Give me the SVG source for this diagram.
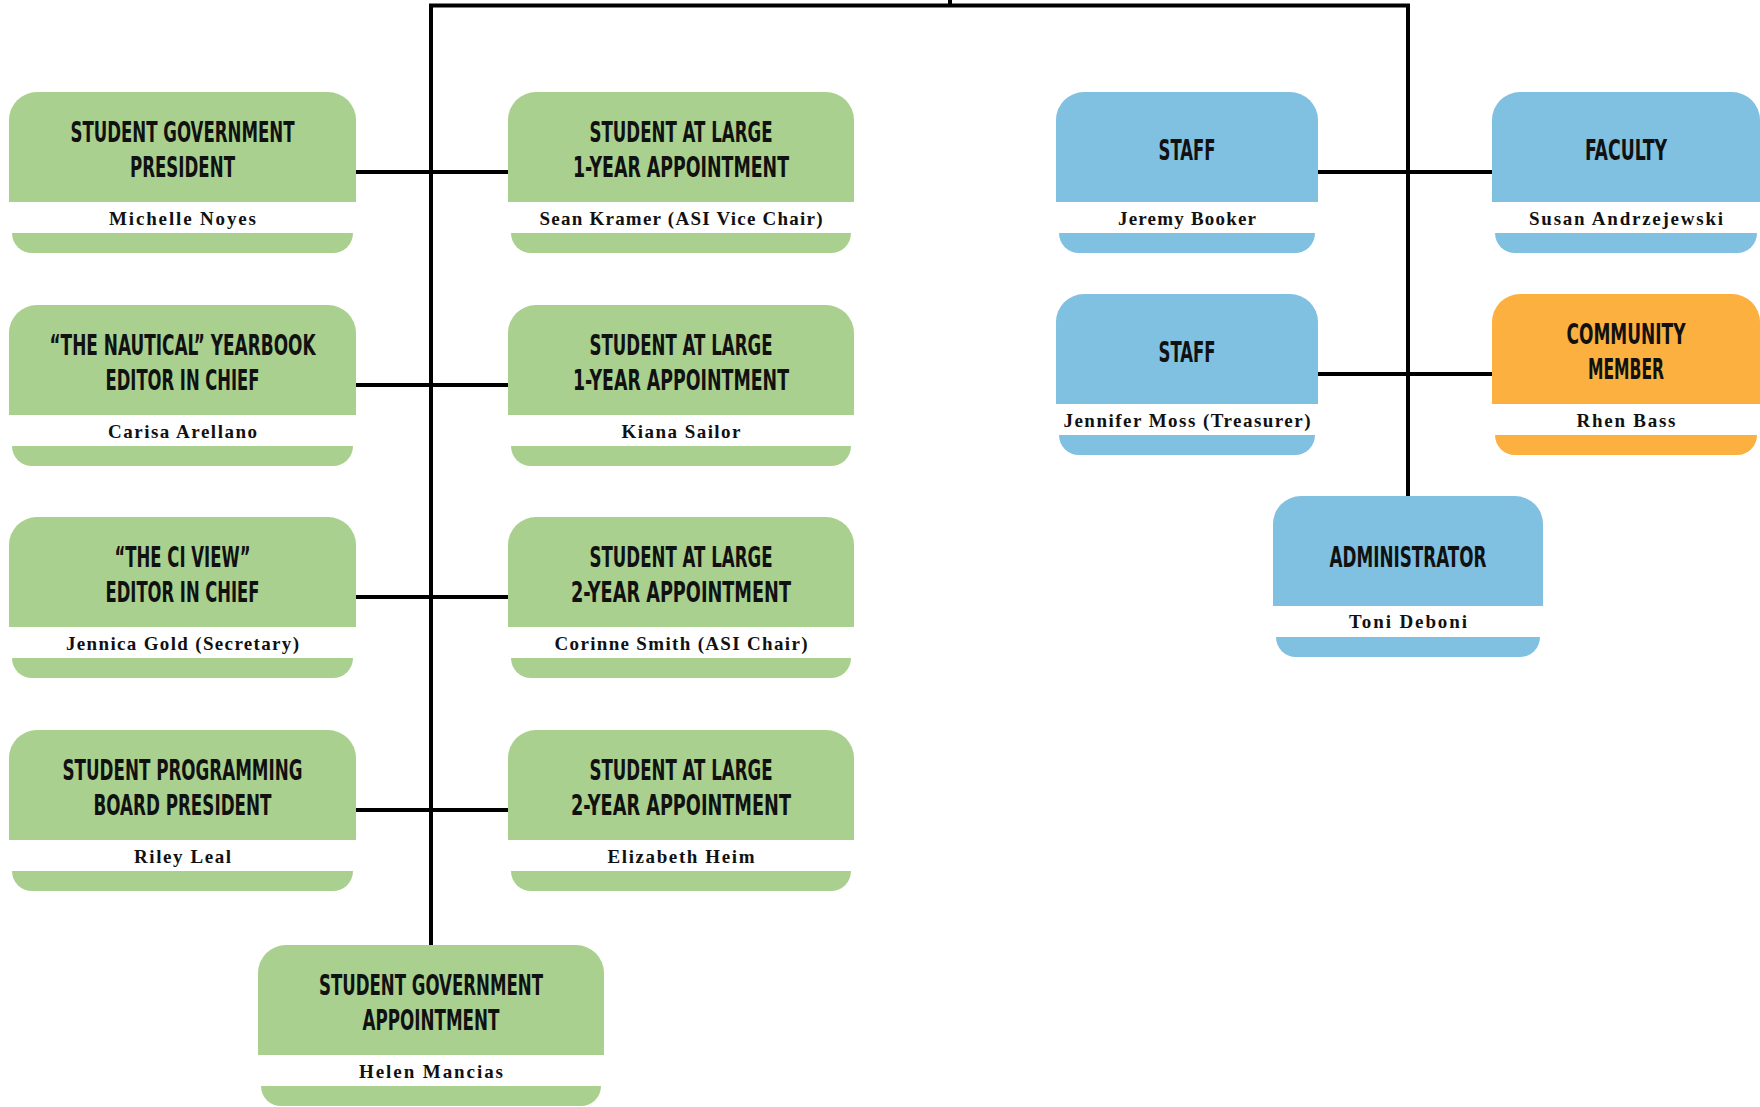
<svg xmlns="http://www.w3.org/2000/svg" width="1760" height="1107" viewBox="0 0 1760 1107">
<style>
.g{fill:#A9D08E}.b{fill:#80C0E1}.o{fill:#FBB040}
.t{font-family:"Liberation Sans Narrow","DejaVu Sans Condensed","Liberation Sans",sans-serif;font-weight:bold;font-size:28px;fill:#111;text-anchor:middle}
.n{font-family:"Liberation Serif","DejaVu Serif",serif;font-weight:bold;font-size:19px;fill:#111;text-anchor:middle}
.c{fill:none;stroke:#000;stroke-width:4}
</style>
<rect width="1760" height="1107" fill="#fff"/>
<g id="connectors" class="c">
<path d="M431,945 V5.5 H1408 V496"/>
<path d="M950,0 V5.5"/>
<path d="M356,172 H508"/>
<path d="M356,385 H508"/>
<path d="M356,597 H508"/>
<path d="M356,810 H508"/>
<path d="M1318,172 H1492"/>
<path d="M1318,374 H1492"/>
</g>

<g id="sg-president" transform="translate(9,92)">
<path class="g" d="M0,110 V28 A28,28 0 0 1 28,0 H319 A28,28 0 0 1 347,28 V110 Z"/>
<path class="g" d="M3,141 H344 A20,20 0 0 1 324,161 H23 A20,20 0 0 1 3,141 Z"/>
<text class="t" x="173.5" y="50" textLength="224" lengthAdjust="spacingAndGlyphs">STUDENT GOVERNMENT</text>
<text class="t" x="173.5" y="85" textLength="105" lengthAdjust="spacingAndGlyphs">PRESIDENT</text>
<text class="n" x="173.5" y="133" textLength="147" lengthAdjust="spacing">Michelle Noyes</text>
</g>

<g id="nautical" transform="translate(9,305)">
<path class="g" d="M0,110 V28 A28,28 0 0 1 28,0 H319 A28,28 0 0 1 347,28 V110 Z"/>
<path class="g" d="M3,141 H344 A20,20 0 0 1 324,161 H23 A20,20 0 0 1 3,141 Z"/>
<text class="t" x="173.5" y="50" textLength="266" lengthAdjust="spacingAndGlyphs">“THE NAUTICAL” YEARBOOK</text>
<text class="t" x="173.5" y="85" textLength="154" lengthAdjust="spacingAndGlyphs">EDITOR IN CHIEF</text>
<text class="n" x="173.5" y="133" textLength="149" lengthAdjust="spacing">Carisa Arellano</text>
</g>

<g id="ciview" transform="translate(9,517)">
<path class="g" d="M0,110 V28 A28,28 0 0 1 28,0 H319 A28,28 0 0 1 347,28 V110 Z"/>
<path class="g" d="M3,141 H344 A20,20 0 0 1 324,161 H23 A20,20 0 0 1 3,141 Z"/>
<text class="t" x="173.5" y="50" textLength="136" lengthAdjust="spacingAndGlyphs">“THE CI VIEW”</text>
<text class="t" x="173.5" y="85" textLength="154" lengthAdjust="spacingAndGlyphs">EDITOR IN CHIEF</text>
<text class="n" x="173.5" y="133" textLength="233" lengthAdjust="spacing">Jennica Gold (Secretary)</text>
</g>

<g id="spb-president" transform="translate(9,730)">
<path class="g" d="M0,110 V28 A28,28 0 0 1 28,0 H319 A28,28 0 0 1 347,28 V110 Z"/>
<path class="g" d="M3,141 H344 A20,20 0 0 1 324,161 H23 A20,20 0 0 1 3,141 Z"/>
<text class="t" x="173.5" y="50" textLength="240" lengthAdjust="spacingAndGlyphs">STUDENT PROGRAMMING</text>
<text class="t" x="173.5" y="85" textLength="178" lengthAdjust="spacingAndGlyphs">BOARD PRESIDENT</text>
<text class="n" x="173.5" y="133" textLength="97" lengthAdjust="spacing">Riley Leal</text>
</g>

<g id="sal-1a" transform="translate(508,92)">
<path class="g" d="M0,110 V28 A28,28 0 0 1 28,0 H318 A28,28 0 0 1 346,28 V110 Z"/>
<path class="g" d="M3,141 H343 A20,20 0 0 1 323,161 H23 A20,20 0 0 1 3,141 Z"/>
<text class="t" x="173" y="50" textLength="183" lengthAdjust="spacingAndGlyphs">STUDENT AT LARGE</text>
<text class="t" x="173" y="85" textLength="216" lengthAdjust="spacingAndGlyphs">1-YEAR APPOINTMENT</text>
<text class="n" x="173" y="133" textLength="283" lengthAdjust="spacing">Sean Kramer (ASI Vice Chair)</text>
</g>

<g id="sal-1b" transform="translate(508,305)">
<path class="g" d="M0,110 V28 A28,28 0 0 1 28,0 H318 A28,28 0 0 1 346,28 V110 Z"/>
<path class="g" d="M3,141 H343 A20,20 0 0 1 323,161 H23 A20,20 0 0 1 3,141 Z"/>
<text class="t" x="173" y="50" textLength="183" lengthAdjust="spacingAndGlyphs">STUDENT AT LARGE</text>
<text class="t" x="173" y="85" textLength="216" lengthAdjust="spacingAndGlyphs">1-YEAR APPOINTMENT</text>
<text class="n" x="173" y="133" textLength="119" lengthAdjust="spacing">Kiana Sailor</text>
</g>

<g id="sal-2a" transform="translate(508,517)">
<path class="g" d="M0,110 V28 A28,28 0 0 1 28,0 H318 A28,28 0 0 1 346,28 V110 Z"/>
<path class="g" d="M3,141 H343 A20,20 0 0 1 323,161 H23 A20,20 0 0 1 3,141 Z"/>
<text class="t" x="173" y="50" textLength="183" lengthAdjust="spacingAndGlyphs">STUDENT AT LARGE</text>
<text class="t" x="173" y="85" textLength="220" lengthAdjust="spacingAndGlyphs">2-YEAR APPOINTMENT</text>
<text class="n" x="173" y="133" textLength="253" lengthAdjust="spacing">Corinne Smith (ASI Chair)</text>
</g>

<g id="sal-2b" transform="translate(508,730)">
<path class="g" d="M0,110 V28 A28,28 0 0 1 28,0 H318 A28,28 0 0 1 346,28 V110 Z"/>
<path class="g" d="M3,141 H343 A20,20 0 0 1 323,161 H23 A20,20 0 0 1 3,141 Z"/>
<text class="t" x="173" y="50" textLength="183" lengthAdjust="spacingAndGlyphs">STUDENT AT LARGE</text>
<text class="t" x="173" y="85" textLength="220" lengthAdjust="spacingAndGlyphs">2-YEAR APPOINTMENT</text>
<text class="n" x="173" y="133" textLength="147" lengthAdjust="spacing">Elizabeth Heim</text>
</g>

<g id="sg-appointment" transform="translate(258,945)">
<path class="g" d="M0,110 V28 A28,28 0 0 1 28,0 H318 A28,28 0 0 1 346,28 V110 Z"/>
<path class="g" d="M3,141 H343 A20,20 0 0 1 323,161 H23 A20,20 0 0 1 3,141 Z"/>
<text class="t" x="173" y="50" textLength="224" lengthAdjust="spacingAndGlyphs">STUDENT GOVERNMENT</text>
<text class="t" x="173" y="85" textLength="137" lengthAdjust="spacingAndGlyphs">APPOINTMENT</text>
<text class="n" x="173" y="133" textLength="144" lengthAdjust="spacing">Helen Mancias</text>
</g>

<g id="staff-1" transform="translate(1056,92)">
<path class="b" d="M0,110 V28 A28,28 0 0 1 28,0 H234 A28,28 0 0 1 262,28 V110 Z"/>
<path class="b" d="M3,141 H259 A20,20 0 0 1 239,161 H23 A20,20 0 0 1 3,141 Z"/>
<text class="t" x="131" y="68" textLength="57" lengthAdjust="spacingAndGlyphs">STAFF</text>
<text class="n" x="131" y="133" textLength="138" lengthAdjust="spacing">Jeremy Booker</text>
</g>

<g id="faculty" transform="translate(1492,92)">
<path class="b" d="M0,110 V28 A28,28 0 0 1 28,0 H240 A28,28 0 0 1 268,28 V110 Z"/>
<path class="b" d="M3,141 H265 A20,20 0 0 1 245,161 H23 A20,20 0 0 1 3,141 Z"/>
<text class="t" x="134" y="68" textLength="82" lengthAdjust="spacingAndGlyphs">FACULTY</text>
<text class="n" x="134" y="133" textLength="194" lengthAdjust="spacing">Susan Andrzejewski</text>
</g>

<g id="staff-2" transform="translate(1056,294)">
<path class="b" d="M0,110 V28 A28,28 0 0 1 28,0 H234 A28,28 0 0 1 262,28 V110 Z"/>
<path class="b" d="M3,141 H259 A20,20 0 0 1 239,161 H23 A20,20 0 0 1 3,141 Z"/>
<text class="t" x="131" y="68" textLength="57" lengthAdjust="spacingAndGlyphs">STAFF</text>
<text class="n" x="131" y="133" textLength="247" lengthAdjust="spacing">Jennifer Moss (Treasurer)</text>
</g>

<g id="community" transform="translate(1492,294)">
<path class="o" d="M0,110 V28 A28,28 0 0 1 28,0 H240 A28,28 0 0 1 268,28 V110 Z"/>
<path class="o" d="M3,141 H265 A20,20 0 0 1 245,161 H23 A20,20 0 0 1 3,141 Z"/>
<text class="t" x="134" y="50" textLength="119" lengthAdjust="spacingAndGlyphs">COMMUNITY</text>
<text class="t" x="134" y="85" textLength="76" lengthAdjust="spacingAndGlyphs">MEMBER</text>
<text class="n" x="134" y="133" textLength="99" lengthAdjust="spacing">Rhen Bass</text>
</g>

<g id="administrator" transform="translate(1273,496)">
<path class="b" d="M0,110 V28 A28,28 0 0 1 28,0 H242 A28,28 0 0 1 270,28 V110 Z"/>
<path class="b" d="M3,141 H267 A20,20 0 0 1 247,161 H23 A20,20 0 0 1 3,141 Z"/>
<text class="t" x="135" y="71" textLength="157" lengthAdjust="spacingAndGlyphs">ADMINISTRATOR</text>
<text class="n" x="135" y="132" textLength="118" lengthAdjust="spacing">Toni Deboni</text>
</g>
</svg>
